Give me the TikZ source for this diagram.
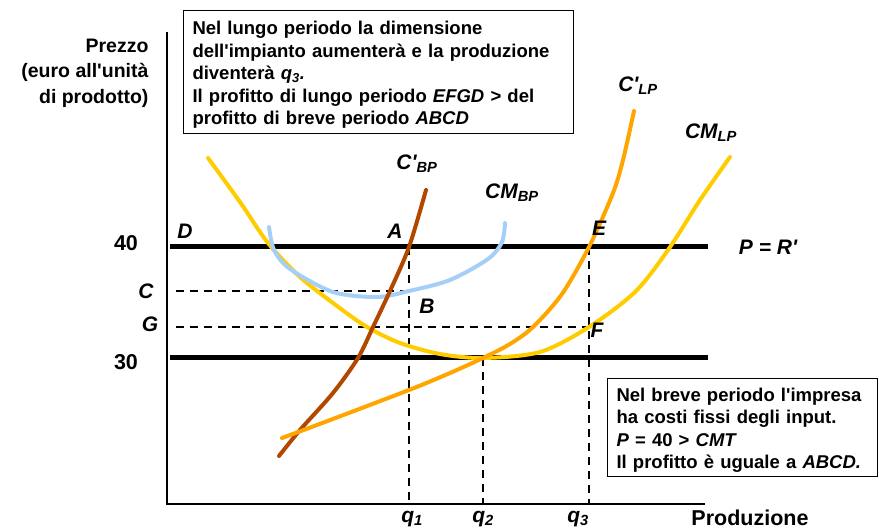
\documentclass[tikz,border=0pt]{standalone}
\usepackage{fontspec}
\setmainfont{Liberation Sans}[Ligatures=TeXOff]
\usetikzlibrary{positioning}
\definecolor{lpmean}{RGB}{255,204,0}
\definecolor{lpmarg}{RGB}{255,165,0}
\definecolor{bpmarg}{RGB}{178,72,0}
\definecolor{bpmean}{RGB}{166,207,247}

\begin{document}
\begin{tikzpicture}[x=1pt,y=-1pt,
      curve/.style={line width=4pt,line cap=round},
      level/.style={line width=5pt},
      guide/.style={line width=2.2pt,dash pattern=on 8pt off 6pt},
      box/.style={draw,line width=1pt,align=left,anchor=north west,inner xsep=9pt,
        font=\fontsize{18.5}{22.5}\selectfont\bfseries},
      lbl/.style={font=\fontsize{21}{24}\selectfont\bfseries\itshape},
      num/.style={font=\fontsize{21.5}{24}\selectfont\bfseries}]

      \useasboundingbox (0,0) rectangle (879,529);

      % axes
      \coordinate (top) at (167,32);
      \coordinate (O) at (167,504);
      \coordinate (right) at (705,504);
      \draw[line width=2.5pt] (top) -- (O) -- (right);

      % points
      \coordinate (A) at (409,247);
      \coordinate (B) at (409,291);
      \coordinate (E) at (589,247);
      \coordinate (F) at (589,327);
      \coordinate (M) at (483,358);

      % dashed guides
      \draw[guide] (176,291) -- (B) -- (B |- O);
      \draw[guide] (176,327) -- (F);
      \draw[guide] (A) -- (B);
      \draw[guide] (E) -- (E |- O);
      \draw[guide] (M) -- (M |- O);

      % price levels
      \draw[level] (170,247) -- (708,247);
      \draw[level] (170,358) -- (708,358);

      % curves
      \draw[curve,lpmean] plot[smooth] coordinates {(208,158) (240,202) (268,243)
        (300,277) (337,306) (367,327) (400,343) (440,354) (483,358) (540,352)
        (589,327) (635,292) (668,250) (700,200) (730,157)};
      \draw[curve,bpmean] plot[smooth] coordinates {(269,227) (274,250) (290,269)
        (333,292) (377,297) (409,291) (450,280) (488,259) (502,242) (505,223)};
      \draw[curve,bpmarg] plot[smooth] coordinates {(279,456) (300,430) (333,393)
        (358,358) (373,327) (390,291) (409,247) (426,190)};
      \draw[curve,lpmarg] plot[smooth] coordinates {(282,438) (317,425) (409,390)
        (450,373) (483,358) (510,344) (533,327) (562,294) (589,247) (613,193)
        (623,160) (634,111)};

      % labels
      \node[num,align=right,anchor=east,font=\fontsize{19.5}{25.5}\selectfont\bfseries]
        (ylab) at (152,73) {Prezzo\\(euro all'unità\\di prodotto)};
      \node[num] (p40) at (126,243) {40};
      \node[num] (p30) at (126,362) {30};
      \node[lbl] (lC) at (146,291) {C};
      \node[lbl] (lG) at (150,324) {G};
      \node[lbl] (lD) at (185,231) {D};
      \node[lbl] (lA) at (395,231) {A};
      \node[lbl] (lB) at (427,306) {B};
      \node[lbl] (lE) at (599,228) {E};
      \node[lbl] (lF) at (597,330) {F};
      \node[lbl] (lP) at (768,247) {P = R'};
      \node[lbl] (q1) at (412,519) {q\textsubscript{1}};
      \node[lbl] (q2) at (483,519) {q\textsubscript{2}};
      \node[lbl] (q3) at (578,519) {q\textsubscript{3}};
      \node[num] (xlab) at (750,518) {Produzione};
      \node[lbl] (nCpBP) at (417,164) {C'\textsubscript{BP}};
      \node[lbl] (nCMBP) at (512,193) {CM\textsubscript{BP}};
      \node[lbl] (nCpLP) at (638,86) {C'\textsubscript{LP}};
      \node[lbl] (nCMLP) at (711,133) {CM\textsubscript{LP}};

      % boxes
      \node[box,text width=372pt,minimum height=123pt] (long) at (183,10)
        {\rule{0pt}{19pt}Nel lungo periodo la dimensione\\dell'impianto aumenterà e la produzione\\
        diventerà \textit{q\textsubscript{3}.}\\Il profitto di lungo periodo \textit{EFGD} > del\\
        profitto di breve periodo \textit{ABCD}};
      \node[box,text width=252pt,minimum height=98pt] (short) at (607,378)
        {\rule{0pt}{19pt}Nel breve periodo l'impresa\\ha costi fissi degli input.\\
        \textit{P} = 40 > \textit{CMT}\\Il profitto è uguale a \textit{ABCD.}};
\end{tikzpicture}
\end{document}
